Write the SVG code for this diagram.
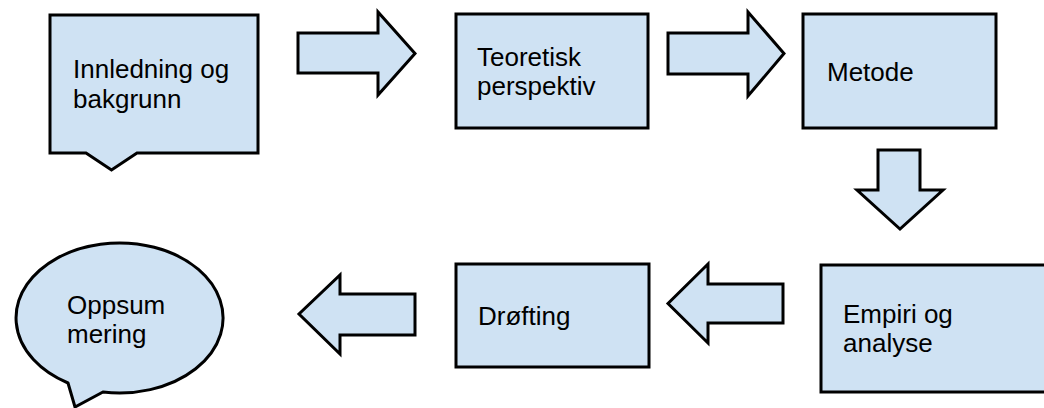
<svg xmlns="http://www.w3.org/2000/svg" width="1044" height="408" viewBox="0 0 1044 408">
  <style>
    .shape { fill: #cfe2f3; stroke: #000000; stroke-width: 3; stroke-linejoin: miter; }
    .label { font-family: "Liberation Sans", Arial, sans-serif; font-size: 26px; fill: #000000; }
  </style>
  <rect x="0" y="0" width="1044" height="408" fill="#ffffff"/>

  <!-- connectors: block arrows between the stages -->
  <g id="connectors">
    <path class="shape" d="M298,33 H378 V12 L415,53.5 L378,95 V73 H298 Z"/>
    <path class="shape" d="M668,33 H748 V12 L784,53.5 L748,96 V74 H668 Z"/>
    <path class="shape" d="M878,150 H920 V190 H943 L900,229 L857,190 H878 Z"/>
    <path class="shape" d="M783,284 H708 V264 L668,303.5 L708,343 V323 H783 Z"/>
    <path class="shape" d="M415,294 H340 V275 L299,314 L340,354 V335 H415 Z"/>
  </g>

  <g id="innledning">
    <path class="shape" d="M50,15 H258 V153 H137 L111.5,170 L86,153 H50 Z"/>
    <text class="label" x="73" y="78">Innledning og</text>
    <text class="label" x="73" y="108">bakgrunn</text>
  </g>

  <g id="teoretisk">
    <rect class="shape" x="456" y="14" width="192" height="114"/>
    <text class="label" x="477" y="66">Teoretisk</text>
    <text class="label" x="477" y="95">perspektiv</text>
  </g>

  <g id="metode">
    <rect class="shape" x="803" y="14" width="193" height="114"/>
    <text class="label" x="827" y="81">Metode</text>
  </g>

  <g id="empiri">
    <rect class="shape" x="821" y="265" width="240" height="127"/>
    <text class="label" x="843" y="323">Empiri og</text>
    <text class="label" x="843" y="352">analyse</text>
  </g>

  <g id="drofting">
    <rect class="shape" x="456" y="264" width="193" height="103"/>
    <text class="label" x="478" y="325">Drøfting</text>
  </g>

  <g id="oppsummering">
    <path class="shape" d="M68,383 L75,407 L103,392 A103.5,75 0 1 0 68,383 Z"/>
    <text class="label" x="67" y="314">Oppsum</text>
    <text class="label" x="67" y="343">mering</text>
  </g>
</svg>
